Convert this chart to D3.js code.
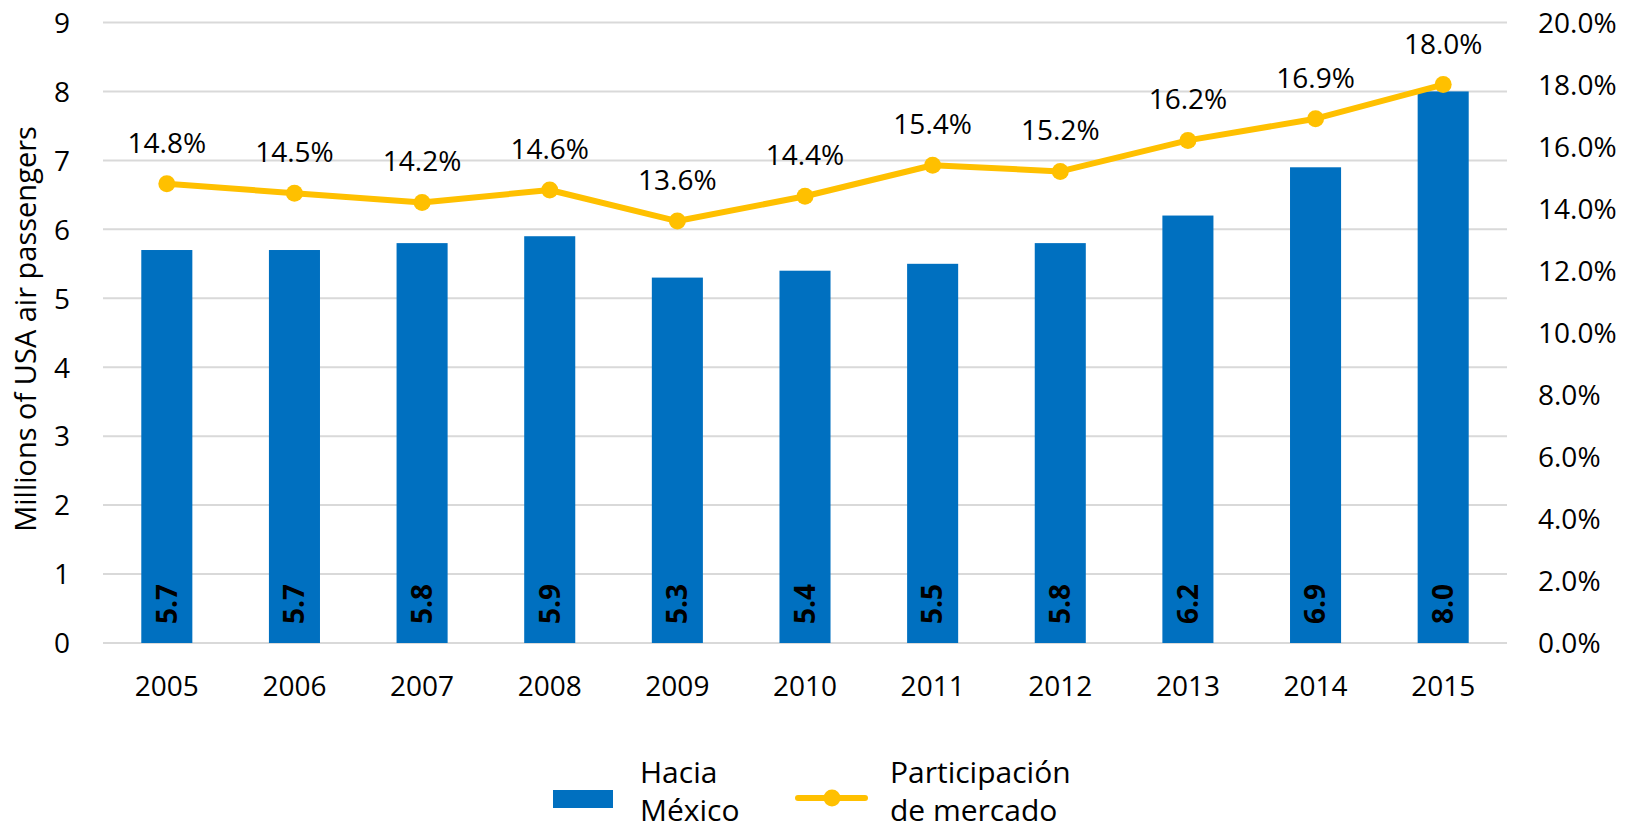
<!DOCTYPE html>
<html>
<head>
<meta charset="utf-8">
<script src="https://cdn.jsdelivr.net/npm/d3@7"></script>
<style>
  body { margin: 0; background: #fff; }
  text { font-family: "Open Sans", sans-serif; fill: #000; }
</style>
</head>
<body>
<div id="chart"></div>
<script>
// data
var years = ["2005", "2006", "2007", "2008", "2009", "2010", "2011", "2012", "2013", "2014", "2015"];
var passengers = [5.7, 5.7, 5.8, 5.9, 5.3, 5.4, 5.5, 5.8, 6.2, 6.9, 8.0];
var share = [14.8, 14.5, 14.2, 14.6, 13.6, 14.4, 15.4, 15.2, 16.2, 16.9, 18.0];
var leftTicks = [0, 1, 2, 3, 4, 5, 6, 7, 8, 9];
var rightTicks = [0, 2, 4, 6, 8, 10, 12, 14, 16, 18, 20];

var width = 1636, height = 831;
var plotLeft = 103, plotRight = 1507, plotTop = 22.5, plotBottom = 643;
var blue = "#0070C0", gold = "#FFC000";

var svg = d3.select("#chart").append("svg")
	.attr("width", width)
	.attr("height", height);

var x = d3.scaleBand().domain(years).range([plotLeft, plotRight]).paddingInner(0.6).paddingOuter(0.3);
var y = d3.scaleLinear().domain([0, 9]).range([plotBottom, plotTop]);
var y2 = d3.scaleLinear().domain([0, 20]).range([plotBottom, plotTop]);

// gridlines
svg.append("g").selectAll("line")
	.data(leftTicks)
	.enter().append("line")
	.attr("x1", plotLeft).attr("x2", plotRight)
	.attr("y1", function(d) { return y(d); })
	.attr("y2", function(d) { return y(d); })
	.attr("stroke", "#d9d9d9")
	.attr("stroke-width", 2);

// left axis
var yAxis = svg.append("g")
	.attr("transform", "translate(" + plotLeft + ",0)")
	.call(d3.axisLeft(y).tickValues(leftTicks).tickSize(0).tickPadding(33).tickFormat(d3.format("d")));
yAxis.select(".domain").remove();
yAxis.selectAll("text").style("font-size", "28px").attr("dy", "0.35em");

// right axis
var yAxis2 = svg.append("g")
	.attr("transform", "translate(" + plotRight + ",0)")
	.call(d3.axisRight(y2).tickValues(rightTicks).tickSize(0).tickPadding(31).tickFormat(function(d) { return d.toFixed(1) + "%"; }));
yAxis2.select(".domain").remove();
yAxis2.selectAll("text").style("font-size", "28px").attr("dy", "0.35em");

// x axis
var xAxis = svg.append("g")
	.attr("transform", "translate(0," + plotBottom + ")")
	.call(d3.axisBottom(x).tickSize(0).tickPadding(33));
xAxis.select(".domain").remove();
xAxis.selectAll("text").style("font-size", "28px").attr("dy", "0.71em");

// axis title
svg.append("text")
	.attr("transform", "translate(36,329) rotate(-90)")
	.attr("text-anchor", "middle")
	.style("font-size", "29px")
	.text("Millions of USA air passengers");

// bars
svg.append("g").selectAll("rect")
	.data(passengers)
	.enter().append("rect")
	.attr("x", function(d, i) { return x(years[i]); })
	.attr("y", function(d) { return y(d); })
	.attr("width", x.bandwidth())
	.attr("height", function(d) { return plotBottom - y(d); })
	.attr("fill", blue);

// bar labels
svg.append("g").selectAll("text")
	.data(passengers)
	.enter().append("text")
	.attr("transform", function(d, i) {
		return "translate(" + (x(years[i]) + x.bandwidth() / 2) + "," + (plotBottom - 39) + ") rotate(-90)";
	})
	.attr("text-anchor", "middle")
	.attr("dy", "0.35em")
	.style("font-size", "28px")
	.style("font-weight", "bold")
	.text(function(d) { return d.toFixed(1); });

// share line
var line = d3.line()
	.x(function(d, i) { return x(years[i]) + x.bandwidth() / 2; })
	.y(function(d) { return y2(d); });

svg.append("path")
	.datum(share)
	.attr("d", line)
	.attr("fill", "none")
	.attr("stroke", gold)
	.attr("stroke-width", 6)
	.attr("stroke-linejoin", "round");

svg.append("g").selectAll("circle")
	.data(share)
	.enter().append("circle")
	.attr("cx", function(d, i) { return x(years[i]) + x.bandwidth() / 2; })
	.attr("cy", function(d) { return y2(d); })
	.attr("r", 8.5)
	.attr("fill", gold);

svg.append("g").selectAll("text")
	.data(share)
	.enter().append("text")
	.attr("x", function(d, i) { return x(years[i]) + x.bandwidth() / 2; })
	.attr("y", function(d) { return y2(d) - 31; })
	.attr("text-anchor", "middle")
	.style("font-size", "28px")
	.text(function(d) { return d.toFixed(1) + "%"; });

// legend
var legend = svg.append("g");
legend.append("rect")
	.attr("x", 553).attr("y", 790)
	.attr("width", 60).attr("height", 18)
	.attr("fill", blue);
legend.append("text").attr("x", 640).attr("y", 783).style("font-size", "30px").text("Hacia");
legend.append("text").attr("x", 640).attr("y", 821).style("font-size", "30px").text("México");

legend.append("line")
	.attr("x1", 798).attr("x2", 865)
	.attr("y1", 798).attr("y2", 798)
	.attr("stroke", gold).attr("stroke-width", 6)
	.attr("stroke-linecap", "round");
legend.append("circle").attr("cx", 832).attr("cy", 798).attr("r", 8.5).attr("fill", gold);
legend.append("text").attr("x", 890).attr("y", 783).style("font-size", "30px").text("Participación");
legend.append("text").attr("x", 890).attr("y", 821).style("font-size", "30px").text("de mercado");
</script>
</body>
</html>
